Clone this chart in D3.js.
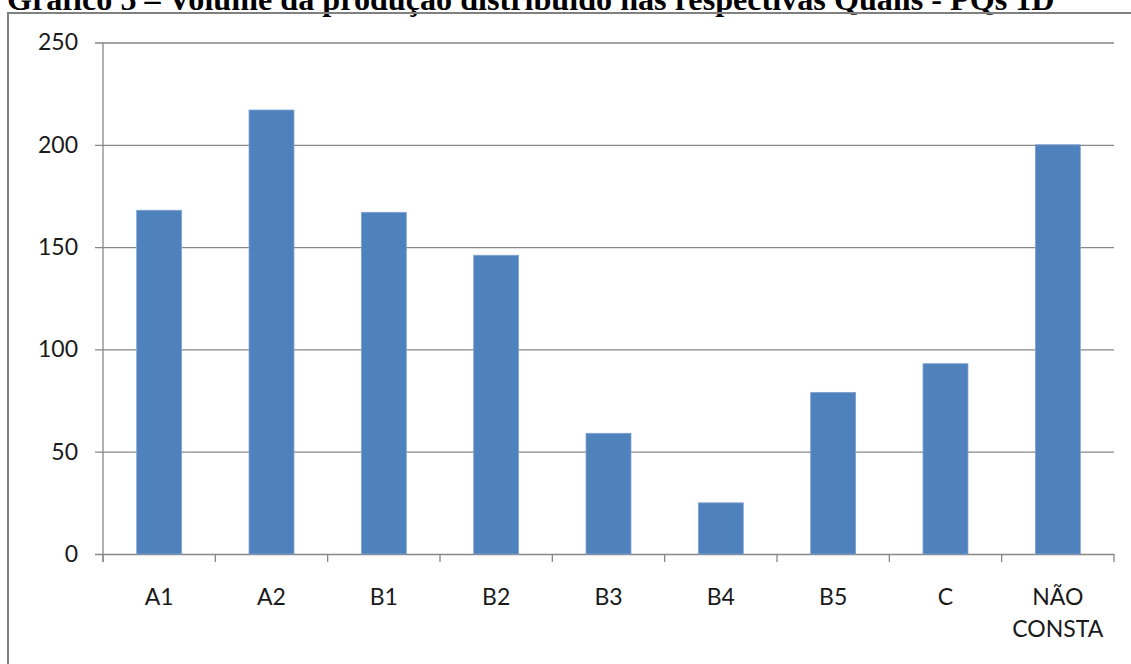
<!DOCTYPE html>
<html>
<head>
<meta charset="utf-8">
<script src="https://cdn.jsdelivr.net/npm/d3@7"></script>
<style>
  html, body { margin: 0; padding: 0; background: #fff; overflow: hidden; }
  svg { display: block; }
</style>
</head>
<body>
<svg id="chart" width="1131" height="664"></svg>
<script>
// Produção por estrato Qualis
const categories = ["A1", "A2", "B1", "B2", "B3", "B4", "B5", "C", "NÃO CONSTA"];
const values = [168, 217, 167, 146, 59, 25, 79, 93, 200];
const yTicks = [0, 50, 100, 150, 200, 250];
const title = "Gráfico 5 – Volume da produção distribuído nas respectivas Qualis - PQs 1D";

const svg = d3.select("#chart");
const W = 1131, H = 664;
const plot = { left: 103, right: 1114, top: 42.5, bottom: 554 };
const gridColor = "#878787";
const labelFont = "Lato, 'Open Sans', sans-serif";

// Título (parcialmente acima da moldura)
const t = svg.append("text")
  .attr("x", 7)
  .attr("y", 10)
  .attr("font-family", "'Liberation Serif', 'Times New Roman', serif")
  .attr("font-weight", "bold")
  .attr("font-size", 28)
  .attr("fill", "#000")
  .text(title);
const tw = t.node().getComputedTextLength();
t.attr("font-size", 28 * 1048 / tw);

// Moldura do gráfico
svg.append("rect")
  .attr("x", 8).attr("y", 13)
  .attr("width", W + 20).attr("height", H + 20)
  .attr("fill", "none")
  .attr("stroke", "#808080")
  .attr("stroke-width", 2);

const x = d3.scaleBand()
  .domain(categories)
  .range([plot.left, plot.right])
  .paddingInner(0.6)
  .paddingOuter(0.3);

const y = d3.scaleLinear()
  .domain([0, 250])
  .range([plot.bottom, plot.top]);

// Linhas de grade e marcas do eixo Y
const yAxis = d3.axisLeft(y)
  .tickValues(yTicks)
  .tickSize(-(plot.right - plot.left))
  .tickPadding(25)
  .tickFormat(d3.format("d"));

const gy = svg.append("g")
  .attr("transform", `translate(${plot.left},0)`)
  .call(yAxis);
gy.select(".domain").remove();
gy.selectAll(".tick line")
  .attr("x1", -8)
  .attr("stroke", gridColor)
  .attr("stroke-width", 1.3);
gy.selectAll(".tick text")
  .attr("font-family", labelFont)
  .attr("font-size", 23)
  .attr("fill", "#1a1a1a");

// Eixo vertical
svg.append("line")
  .attr("x1", plot.left).attr("x2", plot.left)
  .attr("y1", plot.top).attr("y2", plot.bottom + 8)
  .attr("stroke", gridColor)
  .attr("stroke-width", 1.3);

// Marcas entre categorias no eixo X
const boundaries = d3.range(categories.length + 1).map(i => plot.left + i * (plot.right - plot.left) / categories.length);
svg.append("g").selectAll("line")
  .data(boundaries)
  .join("line")
  .attr("x1", d => d).attr("x2", d => d)
  .attr("y1", plot.bottom).attr("y2", plot.bottom + 8)
  .attr("stroke", gridColor)
  .attr("stroke-width", 1.3);

// Barras
svg.append("g").selectAll("rect")
  .data(categories.map((c, i) => ({ c, v: values[i] })))
  .join("rect")
  .attr("x", d => x(d.c))
  .attr("y", d => y(d.v))
  .attr("width", x.bandwidth())
  .attr("height", d => y(0) - y(d.v))
  .attr("fill", "#4F81BD")
  .attr("stroke", "#7fa1cf")
  .attr("stroke-width", 0.8);

// Rótulos das categorias
const xl = svg.append("g").selectAll("text")
  .data(categories)
  .join("text")
  .attr("x", d => x(d) + x.bandwidth() / 2)
  .attr("y", 605)
  .attr("text-anchor", "middle")
  .attr("font-family", labelFont)
  .attr("font-size", 23)
  .attr("fill", "#1a1a1a");
xl.each(function(d) {
  const words = d.split(" ");
  const sel = d3.select(this);
  words.forEach((w, i) => {
    sel.append("tspan")
      .attr("x", x(d) + x.bandwidth() / 2)
      .attr("dy", i === 0 ? 0 : 32)
      .text(w);
  });
});
</script>
</body>
</html>
